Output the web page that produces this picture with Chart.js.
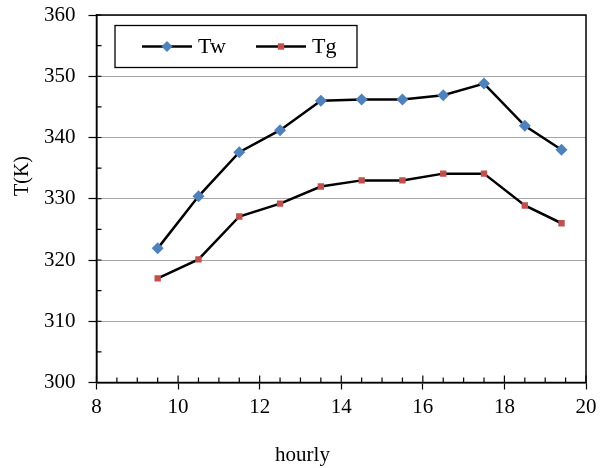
<!DOCTYPE html>
<html>
<head>
<meta charset="utf-8">
<script src="https://cdn.jsdelivr.net/npm/chart.js@4.4.1/dist/chart.umd.min.js"></script>
<style>
  html, body { margin: 0; padding: 0; background: #fff; }
  #wrap { position: relative; width: 604px; height: 468px; }
</style>
</head>
<body>
<div id="wrap"><canvas id="chart"></canvas></div>
<script>
// values
const hours = [9.5, 10.5, 11.5, 12.5, 13.5, 14.5, 15.5, 16.5, 17.5, 18.5, 19.4];
const tw = [321.9, 330.4, 337.6, 341.2, 346.0, 346.2, 346.2, 346.9, 348.8, 341.9, 338.0];
const tg = [317.0, 320.1, 327.1, 329.2, 332.0, 333.0, 333.0, 334.1, 334.1, 328.9, 326.0];
const names = ["Tw", "Tg"];
const xTicks = [8, 10, 12, 14, 16, 18, 20];
const yTicks = [300, 310, 320, 330, 340, 350, 360];
const xTitle = "hourly";
const yTitle = "T(K)";

const serif = "'Times New Roman', 'Liberation Serif', serif";
const blue = "#4F81BD";
const red = "#C0504D";

function marker(ctx, style, cx, cy, r, color) {
  ctx.fillStyle = color;
  ctx.beginPath();
  if (style === "rectRot") {
    ctx.moveTo(cx, cy - r);
    ctx.lineTo(cx + r, cy);
    ctx.lineTo(cx, cy + r);
    ctx.lineTo(cx - r, cy);
  } else {
    const s = r * Math.SQRT1_2;
    ctx.rect(cx - s, cy - s, 2 * s, 2 * s);
  }
  ctx.closePath();
  ctx.fill();
}

// plot-area frame, inner tick marks, axis titles and legend box
const excelBits = {
  id: "excelBits",
  beforeDatasetsDraw(chart) {
    const { ctx, chartArea: a, scales: { x, y } } = chart;
    ctx.save();
    ctx.strokeStyle = "#000";
    ctx.lineWidth = 1.5;
    ctx.strokeRect(a.left, a.top, a.right - a.left, a.bottom - a.top);
    ctx.lineWidth = 1.2;
    ctx.beginPath();
    for (let v = x.min; v <= x.max; v += 0.5) {
      const px = x.getPixelForValue(v);
      ctx.moveTo(px, a.bottom);
      ctx.lineTo(px, a.bottom - (v % 2 === 0 ? 7 : 5));
    }
    for (let v = y.min; v <= y.max; v += 5) {
      const py = y.getPixelForValue(v);
      ctx.moveTo(a.left, py);
      ctx.lineTo(a.left + 5, py);
    }
    ctx.stroke();
    ctx.restore();
  },
  afterDraw(chart) {
    const { ctx, chartArea: a } = chart;
    ctx.save();
    ctx.fillStyle = "#000";
    ctx.font = "21px " + serif;
    ctx.textAlign = "center";
    ctx.textBaseline = "alphabetic";
    ctx.fillText(xTitle, a.left + 206, 461);
    ctx.save();
    ctx.translate(28, a.top + 161);
    ctx.rotate(-Math.PI / 2);
    ctx.font = "20px " + serif;
    ctx.fillText(yTitle, 0, 0);
    ctx.restore();

    // legend
    const bx = a.left + 18.5, by = a.top + 10.5, bw = 242, bh = 42;
    ctx.strokeStyle = "#000";
    ctx.lineWidth = 1.3;
    ctx.fillStyle = "#fff";
    ctx.fillRect(bx, by, bw, bh);
    ctx.strokeRect(bx, by, bw, bh);
    const cy = by + bh / 2;
    const items = [
      { name: names[0], x0: bx + 27, style: "rectRot", r: 5.5, color: blue },
      { name: names[1], x0: bx + 141, style: "rect", r: 4.5, color: red }
    ];
    ctx.font = "22px " + serif;
    ctx.textAlign = "left";
    ctx.textBaseline = "middle";
    items.forEach(it => {
      ctx.strokeStyle = "#000";
      ctx.lineWidth = 2.5;
      ctx.beginPath();
      ctx.moveTo(it.x0, cy);
      ctx.lineTo(it.x0 + 50, cy);
      ctx.stroke();
      marker(ctx, it.style, it.x0 + 25, cy, it.r, it.color);
      ctx.fillStyle = "#000";
      ctx.fillText(it.name, it.x0 + 56, cy + 1);
    });
    ctx.restore();
  }
};

const data = {
  datasets: [
    {
      label: names[0],
      data: hours.map((h, i) => ({ x: h, y: tw[i] })),
      borderColor: "#000",
      borderWidth: 2.5,
      pointStyle: "rectRot",
      pointRadius: 6,
      pointBackgroundColor: blue,
      pointBorderColor: blue,
      pointBorderWidth: 0
    },
    {
      label: names[1],
      data: hours.map((h, i) => ({ x: h, y: tg[i] })),
      borderColor: "#000",
      borderWidth: 2.5,
      pointStyle: "rect",
      pointRadius: 4.5,
      pointBackgroundColor: red,
      pointBorderColor: red,
      pointBorderWidth: 0
    }
  ]
};

const config = {
  type: "line",
  data: data,
  options: {
    responsive: true,
    maintainAspectRatio: false,
    animation: false,
    layout: { padding: { left: 0, top: 15, right: 18, bottom: 0 } },
    plugins: { legend: { display: false }, tooltip: { enabled: false } },
    elements: { line: { tension: 0 } },
    scales: {
      x: {
        type: "linear",
        min: 8,
        max: 20,
        afterBuildTicks: s => { s.ticks = xTicks.map(v => ({ value: v })); },
        afterFit: s => { s.height = 85.5; },
        grid: { drawOnChartArea: false, tickLength: 7, tickColor: "#000", tickWidth: 1.2 },
        border: { color: "#000", width: 1.5 },
        ticks: { color: "#000", font: { family: serif, size: 21 }, padding: 5, maxRotation: 0 }
      },
      y: {
        min: 300,
        max: 360,
        afterBuildTicks: s => { s.ticks = yTicks.map(v => ({ value: v })); },
        afterFit: s => { s.width = 96.5; s.paddingTop = 0; s.paddingBottom = 0; },
        grid: { color: "#A6A6A6", lineWidth: 1, tickLength: 8, tickColor: "#000", tickWidth: 1.2 },
        border: { color: "#000", width: 1.5 },
        ticks: { color: "#000", font: { family: serif, size: 21 }, padding: 13 }
      }
    }
  },
  plugins: [excelBits]
};

const myChart = new Chart(document.getElementById("chart"), config);
</script>
</body>
</html>
